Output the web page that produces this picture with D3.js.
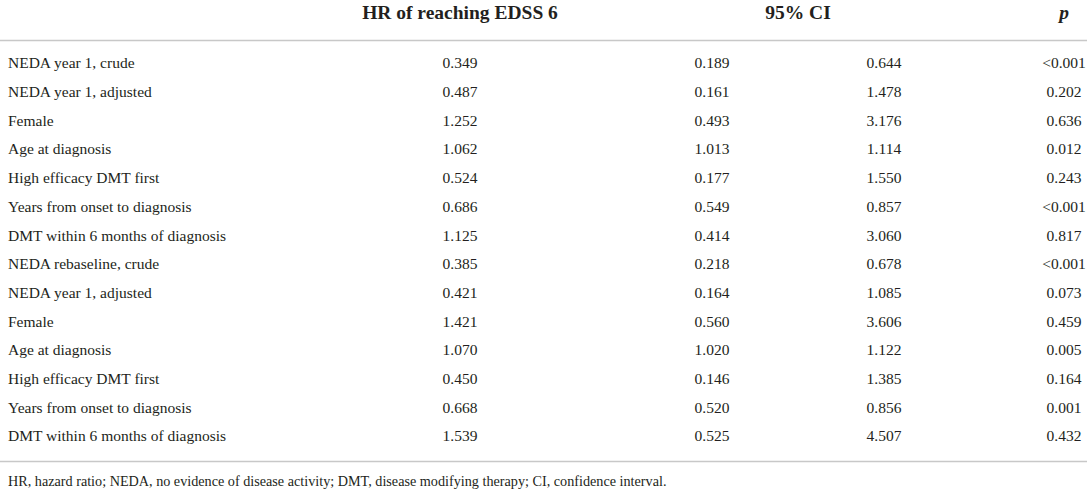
<!DOCTYPE html>
<html>
<head>
<meta charset="utf-8">
<script src="https://cdn.jsdelivr.net/npm/d3@7"></script>
<style>
    body { margin: 0; background: #fff; }
    svg text { font-family: "Liberation Serif", "DejaVu Serif", serif; fill: #231f20; }
</style>
</head>
<body>
<svg id="table" width="1091" height="491"></svg>
<script>
// table contents
var rowLabels = [
    'NEDA year 1, crude', 'NEDA year 1, adjusted', 'Female', 'Age at diagnosis',
    'High efficacy DMT first', 'Years from onset to diagnosis', 'DMT within 6 months of diagnosis',
    'NEDA rebaseline, crude', 'NEDA year 1, adjusted', 'Female', 'Age at diagnosis',
    'High efficacy DMT first', 'Years from onset to diagnosis', 'DMT within 6 months of diagnosis'
];
var hrValues = ['0.349', '0.487', '1.252', '1.062', '0.524', '0.686', '1.125',
    '0.385', '0.421', '1.421', '1.070', '0.450', '0.668', '1.539'];
var ciLower = ['0.189', '0.161', '0.493', '1.013', '0.177', '0.549', '0.414',
    '0.218', '0.164', '0.560', '1.020', '0.146', '0.520', '0.525'];
var ciUpper = ['0.644', '1.478', '3.176', '1.114', '1.550', '0.857', '3.060',
    '0.678', '1.085', '3.606', '1.122', '1.385', '0.856', '4.507'];
var pValues = ['<0.001', '0.202', '0.636', '0.012', '0.243', '<0.001', '0.817',
    '<0.001', '0.073', '0.459', '0.005', '0.164', '0.001', '0.432'];
var footnote = 'HR, hazard ratio; NEDA, no evidence of disease activity; DMT, disease modifying therapy; CI, confidence interval.';

var svg = d3.select('#table');
var ruleEnd = 1087;

var colX = d3.scaleOrdinal()
    .domain(['hr', 'lo', 'hi', 'p'])
    .range([460, 712, 884, 1064]);

var yScale = d3.scaleBand()
    .domain(d3.range(rowLabels.length))
    .range([48.6, 450.4]);

var fontSize = 15.5;

// header
var header = svg.append('g').attr('font-weight', 'bold').attr('font-size', 19.5).attr('text-anchor', 'middle');
header.append('text').attr('x', colX('hr')).attr('y', 19).text('HR of reaching EDSS 6');
header.append('text').attr('x', (colX('lo') + colX('hi')) / 2).attr('y', 19).text('95% CI');
header.append('text').attr('x', colX('p')).attr('y', 19)
    .attr('font-style', 'italic').text('p');

// rules
svg.append('line').attr('x1', 0).attr('x2', ruleEnd).attr('y1', 40.5).attr('y2', 40.5)
    .attr('stroke', '#c8c8c8').attr('stroke-width', 1.5);
svg.append('line').attr('x1', 0).attr('x2', ruleEnd).attr('y1', 461.5).attr('y2', 461.5)
    .attr('stroke', '#c8c8c8').attr('stroke-width', 1.5);

// rows
var rows = svg.append('g').selectAll('g.row')
    .data(rowLabels)
    .enter().append('g')
    .attr('class', 'row')
    .attr('transform', (d, i) => 'translate(0,' + (yScale(i) + yScale.bandwidth() / 2) + ')')
    .attr('font-size', fontSize);

rows.append('text').attr('x', 8).attr('dy', '0.35em').text(d => d);

var cols = [['hr', hrValues], ['lo', ciLower], ['hi', ciUpper], ['p', pValues]];
cols.forEach(function (c) {
    rows.append('text')
        .attr('x', colX(c[0]))
        .attr('dy', '0.35em')
        .attr('text-anchor', 'middle')
        .text((d, i) => c[1][i]);
});

// footnote
svg.append('text').attr('x', 8).attr('y', 486)
    .attr('font-size', 14.2).text(footnote);
</script>
</body>
</html>
